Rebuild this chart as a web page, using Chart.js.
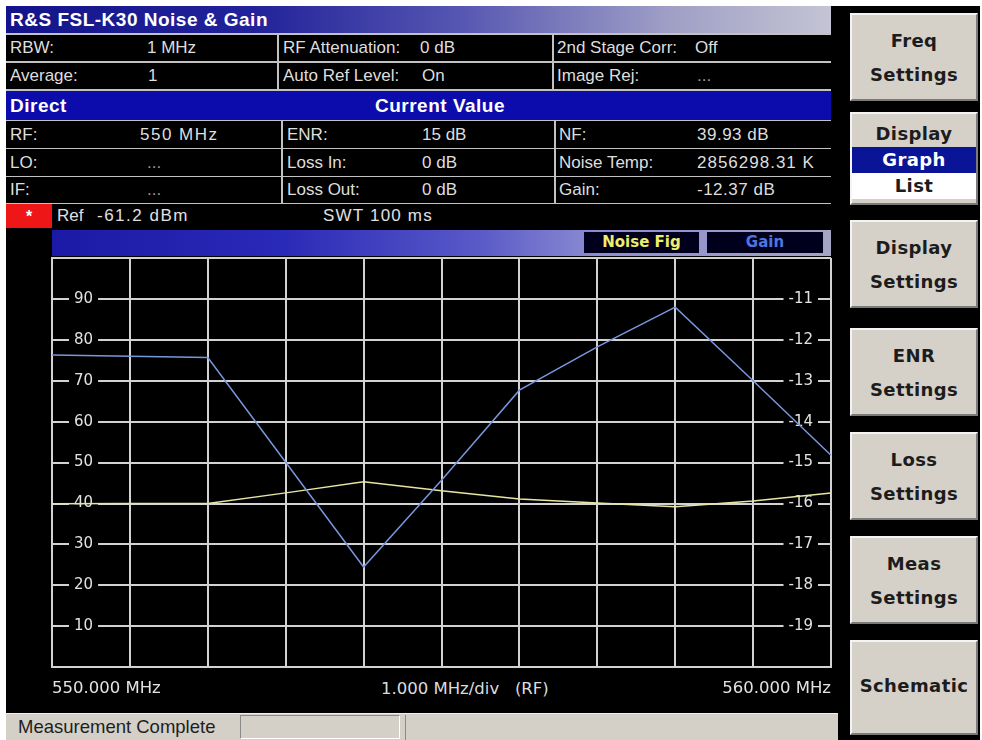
<!DOCTYPE html>
<html>
<head>
<meta charset="utf-8">
<title>R&amp;S FSL-K30 Noise &amp; Gain</title>
<script src="https://cdn.jsdelivr.net/npm/chart.js@4.4.1/dist/chart.umd.min.js"></script>
<style>
  body { margin: 0; width: 982px; height: 740px; background: #fff; position: relative; overflow: hidden;
         font-family: 'Liberation Sans', Arial, sans-serif; }
  .box { position: absolute; }
  .cell { position: absolute; background: #000; color: #dedede; font-size: 17px; line-height: 27px; white-space: pre; }
  .cell span { position: absolute; top: 0; }
  .dim { color: #9a9a9a; }
  .key { position: absolute; left: 850px; width: 124px; background: #d5d1c9;
         border-top: 2px solid #f4f4f4; border-left: 2px solid #f4f4f4;
         border-right: 2px solid #7a7a7a; border-bottom: 2px solid #7a7a7a;
         font-family: 'DejaVu Sans', sans-serif; font-weight: bold; font-size: 18px; color: #1c1c1c;
         text-align: center; letter-spacing: 0.4px; }
  .key .ln { height: 34px; line-height: 34px; }
</style>
</head>
<body>
<!-- screen background -->
<div class="box" style="left:6px;top:6px;width:974px;height:734px;background:#000"></div>

<!-- header -->
<div class="box" style="left:6px;top:6px;width:825px;height:27px;line-height:27px;box-sizing:border-box;padding-left:4px;
  background:linear-gradient(90deg,#14148a 0%,#22229a 30%,#5656b2 55%,#9e9ec6 80%,#c4c4d4 100%);
  color:#fff;font-weight:bold;font-size:19px;letter-spacing:0.5px">R&amp;S FSL-K30 Noise &amp; Gain</div>
<div class="box" style="left:6px;top:33px;width:825px;height:171px;background:#c2c2c2"></div>

<div class="cell" style="left:6px;top:35px;width:271px;height:26px;line-height:26px"><span style="left:4px">RBW:</span><span style="left:141px">1 MHz</span></div>
<div class="cell" style="left:279px;top:35px;width:273px;height:26px;line-height:26px"><span style="left:4px">RF Attenuation:</span><span style="left:141px">0 dB</span></div>
<div class="cell" style="left:554px;top:35px;width:277px;height:26px;line-height:26px"><span style="left:3px">2nd Stage Corr:</span><span style="left:141px">Off</span></div>

<div class="cell" style="left:6px;top:63px;width:271px;height:26px;line-height:26px"><span style="left:4px">Average:</span><span style="left:142px">1</span></div>
<div class="cell" style="left:279px;top:63px;width:273px;height:26px;line-height:26px"><span style="left:4px">Auto Ref Level:</span><span style="left:143px">On</span></div>
<div class="cell" style="left:554px;top:63px;width:277px;height:26px;line-height:26px"><span style="left:3px">Image Rej:</span><span class="dim" style="left:143px">...</span></div>

<div class="box" style="left:6px;top:91px;width:825px;height:29px;line-height:29px;background:#0c0cac;color:#fff;font-weight:bold;font-size:19px;letter-spacing:0.5px">
  <span style="position:absolute;left:4px">Direct</span><span style="position:absolute;left:369px">Current Value</span></div>

<div class="cell" style="left:6px;top:121px;width:275px;height:27px"><span style="left:4px">RF:</span><span style="left:134px;letter-spacing:1.5px">550 MHz</span></div>
<div class="cell" style="left:283px;top:121px;width:271px;height:27px"><span style="left:4px">ENR:</span><span style="left:139px">15 dB</span></div>
<div class="cell" style="left:556px;top:121px;width:275px;height:27px"><span style="left:3px">NF:</span><span style="left:141px;letter-spacing:0.5px">39.93 dB</span></div>

<div class="cell" style="left:6px;top:149px;width:275px;height:27px"><span style="left:4px">LO:</span><span class="dim" style="left:141px">...</span></div>
<div class="cell" style="left:283px;top:149px;width:271px;height:27px"><span style="left:4px">Loss In:</span><span style="left:139px">0 dB</span></div>
<div class="cell" style="left:556px;top:149px;width:275px;height:27px"><span style="left:3px">Noise Temp:</span><span style="left:141px;letter-spacing:1px">2856298.31 K</span></div>

<div class="cell" style="left:6px;top:177px;width:275px;height:26px;line-height:26px"><span style="left:4px">IF:</span><span class="dim" style="left:141px">...</span></div>
<div class="cell" style="left:283px;top:177px;width:271px;height:26px;line-height:26px"><span style="left:4px">Loss Out:</span><span style="left:139px">0 dB</span></div>
<div class="cell" style="left:556px;top:177px;width:275px;height:26px;line-height:26px"><span style="left:3px">Gain:</span><span style="left:141px;letter-spacing:0.5px">-12.37 dB</span></div>

<!-- ref line -->
<div class="box" style="left:6px;top:204px;width:46px;height:24px;background:#ee1616;color:#fff;font-weight:bold;font-size:16px;line-height:26px;text-align:center">*</div>
<div class="box" style="left:57px;top:203px;line-height:26px;font-size:17px;color:#e0e0e0">Ref</div>
<div class="box" style="left:97px;top:203px;line-height:26px;font-size:17px;color:#e0e0e0;letter-spacing:1.5px">-61.2 dBm</div>
<div class="box" style="left:323px;top:203px;line-height:26px;font-size:17px;color:#e0e0e0;letter-spacing:1.2px">SWT 100 ms</div>

<!-- trace bar with legend -->
<div class="box" style="left:52px;top:230px;width:779px;height:26px;
  background:linear-gradient(90deg,#1a1aa6 0%,#2a2ab8 30%,#5a5ac8 55%,#8c8cd2 70%,#a4a4c4 100%)"></div>
<div class="box" style="left:584px;top:232px;width:115px;height:21px;line-height:21px;background:#00001c;color:#eeee6a;
  font-family:'DejaVu Sans',sans-serif;font-weight:bold;font-size:15px;text-align:center">Noise Fig</div>
<div class="box" style="left:707px;top:232px;width:116px;height:21px;line-height:21px;background:#00001c;color:#4a78e2;
  font-family:'DejaVu Sans',sans-serif;font-weight:bold;font-size:15px;text-align:center">Gain</div>

<div class="box" style="left:381px;top:679px;line-height:19px;font-family:'DejaVu Sans',sans-serif;font-size:16.5px;color:#dcdcdc;white-space:pre">1.000 MHz/div   (RF)</div>

<!-- status bar -->
<div class="box" style="left:6px;top:713px;width:832px;height:27px;background:#d4d0c8;border-top:1px solid #efefef;box-sizing:border-box"></div>
<div class="box" style="left:18px;top:713px;line-height:27px;font-size:18.5px;color:#1e1e1e">Measurement Complete</div>
<div class="box" style="left:240px;top:715px;width:160px;height:24px;border-top:1px solid #8a8a8a;border-left:1px solid #8a8a8a;border-right:1px solid #fff;border-bottom:1px solid #fff;box-sizing:border-box"></div>
<div class="box" style="left:405px;top:715px;width:1px;height:25px;background:#8a8a8a"></div>

<!-- softkeys -->
<div class="key" style="top:13px;height:84px"><div style="height:9px"></div><div class="ln">Freq</div><div class="ln">Settings</div></div>
<div class="key" style="top:112px;height:89px">
  <div style="height:33px;line-height:40px">Display</div>
  <div style="height:26px;line-height:26px;background:#0a1497;color:#fff">Graph</div>
  <div style="height:26px;line-height:26px;background:#fff">List</div>
</div>
<div class="key" style="top:220px;height:84px"><div style="height:9px"></div><div class="ln">Display</div><div class="ln">Settings</div></div>
<div class="key" style="top:328px;height:84px"><div style="height:9px"></div><div class="ln">ENR</div><div class="ln">Settings</div></div>
<div class="key" style="top:432px;height:84px"><div style="height:9px"></div><div class="ln">Loss</div><div class="ln">Settings</div></div>
<div class="key" style="top:536px;height:84px"><div style="height:9px"></div><div class="ln">Meas</div><div class="ln">Settings</div></div>
<div class="key" style="top:640px;height:91px"><div style="height:27px"></div><div class="ln">Schematic</div></div>

<canvas id="chart" width="837" height="485" style="position:absolute;left:6px;top:226px"></canvas>

<script>
  const freqMHz = [550, 551, 552, 553, 554, 555, 556, 557, 558, 559, 560];
  const noiseFigDb = [39.93, 40.0, 40.0, 42.6, 45.3, 43.1, 41.1, 40.1, 39.2, 40.6, 42.6];
  const gainDb = [-12.37, -12.40, -12.43, -14.99, -17.55, -15.43, -13.23, -12.17, -11.20, -13.00, -14.82];
  const nfTickLabels = [10, 20, 30, 40, 50, 60, 70, 80, 90];
  const gainTickLabels = [-19, -18, -17, -16, -15, -14, -13, -12, -11];

  const gridColor = '#d2d2d2';
  const labelColor = '#e2e2e2';
  const tickFont = { family: 'DejaVu Sans', size: 15 };

  Chart.defaults.font.family = 'DejaVu Sans';

  let ctx = document.getElementById('chart').getContext('2d');
  let grafica = new Chart(ctx, {
    type: 'line',
    data: {
      labels: freqMHz,
      datasets: [
        {
          label: 'Gain',
          data: gainDb,
          yAxisID: 'yGain',
          borderColor: '#7896dc',
          borderWidth: 1.5,
          pointRadius: 0,
          tension: 0,
        },
        {
          label: 'Noise Fig',
          data: noiseFigDb,
          yAxisID: 'yNf',
          borderColor: '#e6e6a4',
          borderWidth: 1.5,
          pointRadius: 0,
          tension: 0,
        }
      ]
    },
    options: {
      responsive: false,
      animation: false,
      layout: { padding: { left: 2, right: 12, top: 32, bottom: 0 } },
      plugins: {
        legend: { display: false },
        tooltip: { enabled: false },
      },
      scales: {
        x: {
          grid: { color: gridColor, lineWidth: 2, drawTicks: false },
          border: { color: gridColor, width: 2 },
          ticks: {
            autoSkip: false,
            maxRotation: 0,
            align: 'inner',
            padding: 12,
            color: labelColor,
            font: { family: 'DejaVu Sans', size: 16.5 },
            callback: (v, i) => (i === 0 || i === freqMHz.length - 1) ? freqMHz[i].toFixed(3) + ' MHz' : '',
          }
        },
        yNf: {
          position: 'left',
          min: 0,
          max: 100,
          grid: { color: gridColor, lineWidth: 2, drawTicks: false },
          border: { color: gridColor, width: 2 },
          ticks: {
            stepSize: 10,
            mirror: true,
            padding: 22,
            color: labelColor,
            font: tickFont,
            showLabelBackdrop: true,
            backdropPadding: { x: 5, y: 2 },
            backdropColor: c => nfTickLabels.includes(Math.round(c.tick.value)) ? '#000' : 'rgba(0,0,0,0)',
            callback: v => nfTickLabels.includes(Math.round(v)) ? String(Math.round(v)) : '',
          }
        },
        yGain: {
          position: 'right',
          min: -20,
          max: -10,
          grid: { display: false, drawTicks: false },
          border: { display: false },
          ticks: {
            stepSize: 1,
            mirror: true,
            // mirrored right-hand labels are placed at left + padding, so pull them inside the plot
            padding: -18,
            color: labelColor,
            font: tickFont,
            showLabelBackdrop: true,
            backdropPadding: { x: 5, y: 2 },
            backdropColor: c => gainTickLabels.includes(Math.round(c.tick.value)) ? '#000' : 'rgba(0,0,0,0)',
            callback: v => gainTickLabels.includes(Math.round(v)) ? String(Math.round(v)) : '',
          }
        }
      }
    }
  });
</script>
</body>
</html>
